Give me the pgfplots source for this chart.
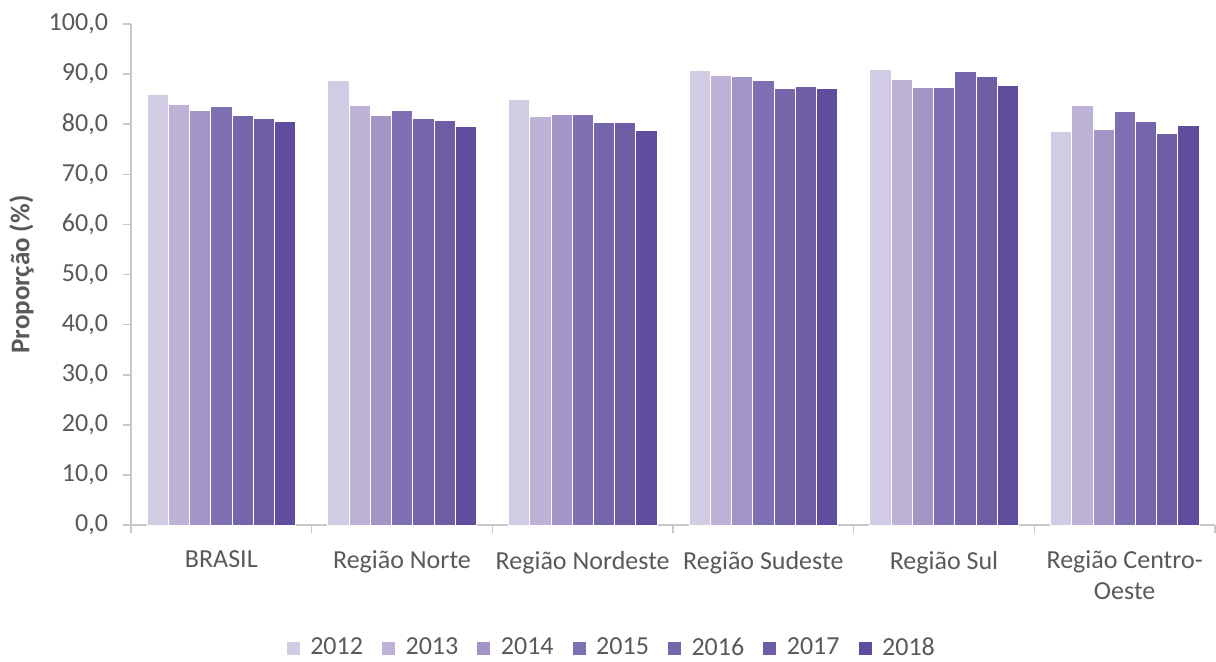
\documentclass[border=0pt]{standalone}
\usepackage{pgfplots}
\pgfplotsset{compat=1.18}
\usepackage{fontspec}
\setmainfont{Carlito}

\definecolor{c12}{HTML}{D1CCE4}
\definecolor{c13}{HTML}{BEB2D7}
\definecolor{c14}{HTML}{A396C7}
\definecolor{c15}{HTML}{7E70B2}
\definecolor{c16}{HTML}{7565AA}
\definecolor{c17}{HTML}{6E5CA5}
\definecolor{c18}{HTML}{604D9E}
\definecolor{txt}{HTML}{595959}
\definecolor{axl}{HTML}{C8C8C8}

\begin{document}
\begin{tikzpicture}
\begin{axis}[
    at={(0,0)}, anchor=south west,
    scale only axis,
    width=542pt, height=250.5pt,
    ybar=0pt,
    bar width=0.1175,
    xmin=-0.5, xmax=5.5,
    ymin=0, ymax=100,
    ytick={0,10,...,100},
    % boundaries carry the tick marks, centres carry the names
    xtick={-0.5,0.5,...,5.5},
    xticklabels={},
    extra x ticks={0,...,5},
    extra x tick labels={BRASIL, Região Norte, Região Nordeste, Região Sudeste, Região Sul, {Região Centro-\\Oeste}},
    extra x tick style={major tick length=0pt, xtick style={draw=none}},
    axis x line*=bottom, axis y line*=left,
    axis line style={axl, line width=0.8pt, -},
    tick align=outside,
    major tick length=4pt,
    tick style={axl, line width=0.8pt},
    ticklabel style={font=\fontsize{13}{15.5}\selectfont, text=txt},
    xticklabel style={align=center, yshift=-9.5pt},
    yticklabel style={xshift=-4pt},
    /pgf/number format/.cd, fixed, fixed zerofill, precision=1, use comma, assume math mode=true,
    /pgfplots/.cd,
    ylabel={\textbf{Proporção (\%)}},
    ylabel style={font=\fontsize{13.5}{15}\selectfont, text=txt, yshift=0.5pt},
    legend columns=7,
    legend style={at={(0.444,-0.2455)}, anchor=center, draw=none,
        font=\fontsize{13}{15.5}\selectfont, text=txt,
        /tikz/every odd column/.append style={column sep=3pt},
        /tikz/every even column/.append style={column sep=7pt}},
    legend image code/.code={\fill[#1] (0pt,-3.5pt) rectangle (7pt,3.5pt);},
    every axis plot/.append style={draw=white, line width=0.3pt},
]
\addplot[fill=c12] coordinates {(0,86.0) (1,88.8) (2,85.0) (3,90.8) (4,91.0) (5,78.6)};
\addplot[fill=c13] coordinates {(0,84.0) (1,83.8) (2,81.5) (3,89.8) (4,89.0) (5,83.8)};
\addplot[fill=c14] coordinates {(0,82.7) (1,81.7) (2,82.0) (3,89.5) (4,87.4) (5,79.0)};
\addplot[fill=c15] coordinates {(0,83.5) (1,82.8) (2,82.0) (3,88.7) (4,87.4) (5,82.6)};
\addplot[fill=c16] coordinates {(0,81.8) (1,81.1) (2,80.3) (3,87.1) (4,90.6) (5,80.6)};
\addplot[fill=c17] coordinates {(0,81.2) (1,80.8) (2,80.3) (3,87.6) (4,89.6) (5,78.2)};
\addplot[fill=c18] coordinates {(0,80.6) (1,79.6) (2,78.8) (3,87.2) (4,87.8) (5,79.8)};
\legend{2012,2013,2014,2015,2016,2017,2018}
\end{axis}
\pgfresetboundingbox
\path[use as bounding box] (-65.5pt,-68pt) rectangle (542.5pt,262.5pt);
\end{tikzpicture}
\end{document}
